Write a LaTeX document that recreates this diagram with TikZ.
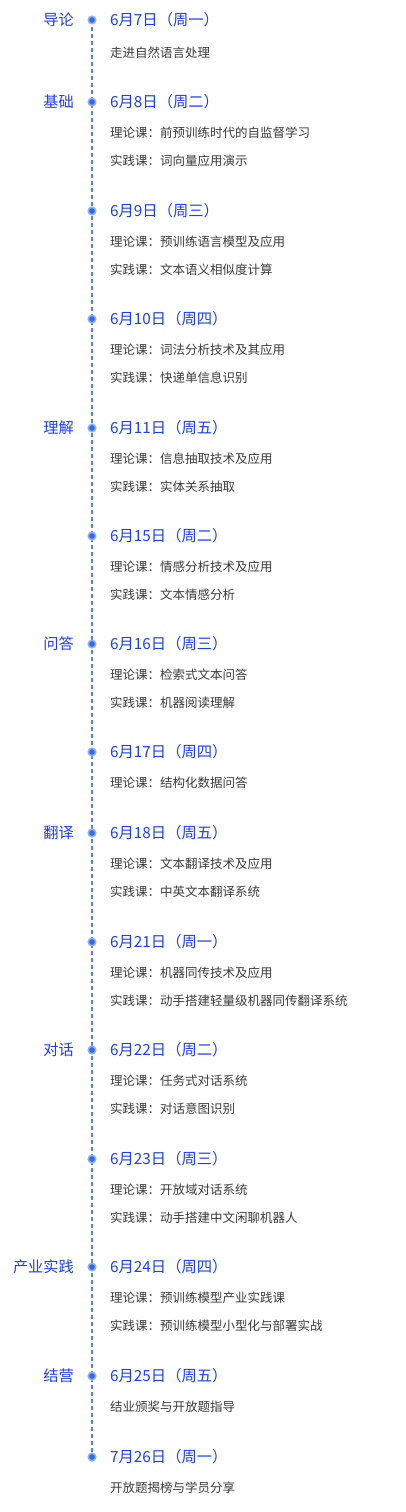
\documentclass[tikz,border=0pt]{standalone}
\usepackage{fontspec}
\setmainfont{Noto Sans CJK SC}
\definecolor{dateblue}{HTML}{1C3FEA}
\definecolor{dotblue}{HTML}{2E6BEF}
\definecolor{halo}{HTML}{8FB0F7}
\definecolor{subgray}{HTML}{3A3A3A}
\begin{document}
\begin{tikzpicture}[x=1pt,y=-1pt,
  datetxt/.style={anchor=west,inner sep=0pt,text=dateblue,font=\fontsize{15.3}{15.3}\selectfont},
  subtxt/.style={anchor=west,inner sep=0pt,text=subgray,font=\fontsize{12.5}{12.5}\selectfont},
  cattxt/.style={anchor=east,inner sep=0pt,text=dateblue,font=\fontsize{15.2}{15.2}\selectfont},
  tl/.style={draw=dotblue!85,line width=1.1pt,dash pattern=on 4pt off 3pt}]
\useasboundingbox (0,0) rectangle (406,1512);
\coordinate (top) at (92,20);
\coordinate (bot) at (92,1457);
\draw[tl] (top) -- (bot);
\newcommand{\tlday}[4]{% y, name, date, cat
  \fill[halo] (92,#1) circle (4.6);
  \fill[dotblue] (92,#1) circle (2.8);
  \node[datetxt] (d#2) at (110,#1) {#3};
  \node[cattxt] (c#2) at (74,#1) {#4};
}
\tlday{20}{a}{6月7日（周一）}{导论}
\node[subtxt] (sa1) at (110,53) {走进自然语言处理};
\tlday{102}{b}{6月8日（周二）}{基础}
\node[subtxt] (sb1) at (110,133) {理论课：前预训练时代的自监督学习};
\node[subtxt] (sb2) at (110,161) {实践课：词向量应用演示};
\tlday{211}{c}{6月9日（周三）}{}
\node[subtxt] (sc1) at (110,242) {理论课：预训练语言模型及应用};
\node[subtxt] (sc2) at (110,270) {实践课：文本语义相似度计算};
\tlday{319}{d}{6月10日（周四）}{}
\node[subtxt] (sd1) at (110,350) {理论课：词法分析技术及其应用};
\node[subtxt] (sd2) at (110,378) {实践课：快递单信息识别};
\tlday{428}{e}{6月11日（周五）}{理解}
\node[subtxt] (se1) at (110,459) {理论课：信息抽取技术及应用};
\node[subtxt] (se2) at (110,487) {实践课：实体关系抽取};
\tlday{536}{f}{6月15日（周二）}{}
\node[subtxt] (sf1) at (110,567) {理论课：情感分析技术及应用};
\node[subtxt] (sf2) at (110,595) {实践课：文本情感分析};
\tlday{644}{g}{6月16日（周三）}{问答}
\node[subtxt] (sg1) at (110,675) {理论课：检索式文本问答};
\node[subtxt] (sg2) at (110,703) {实践课：机器阅读理解};
\tlday{752}{h}{6月17日（周四）}{}
\node[subtxt] (sh1) at (110,783) {理论课：结构化数据问答};
\tlday{833}{i}{6月18日（周五）}{翻译}
\node[subtxt] (si1) at (110,864) {理论课：文本翻译技术及应用};
\node[subtxt] (si2) at (110,892) {实践课：中英文本翻译系统};
\tlday{942}{j}{6月21日（周一）}{}
\node[subtxt] (sj1) at (110,973) {理论课：机器同传技术及应用};
\node[subtxt] (sj2) at (110,1001) {实践课：动手搭建轻量级机器同传翻译系统};
\tlday{1050}{k}{6月22日（周二）}{对话}
\node[subtxt] (sk1) at (110,1081) {理论课：任务式对话系统};
\node[subtxt] (sk2) at (110,1109) {实践课：对话意图识别};
\tlday{1159}{l}{6月23日（周三）}{}
\node[subtxt] (sl1) at (110,1190) {理论课：开放域对话系统};
\node[subtxt] (sl2) at (110,1218) {实践课：动手搭建中文闲聊机器人};
\tlday{1267}{m}{6月24日（周四）}{产业实践}
\node[subtxt] (sm1) at (110,1298) {理论课：预训练模型产业实践课};
\node[subtxt] (sm2) at (110,1326) {实践课：预训练模型小型化与部署实战};
\tlday{1376}{n}{6月25日（周五）}{结营}
\node[subtxt] (sn1) at (110,1407) {结业颁奖与开放题指导};
\tlday{1457}{o}{7月26日（周一）}{}
\node[subtxt] (so1) at (110,1488) {开放题揭榜与学员分享};
\end{tikzpicture}
\end{document}
